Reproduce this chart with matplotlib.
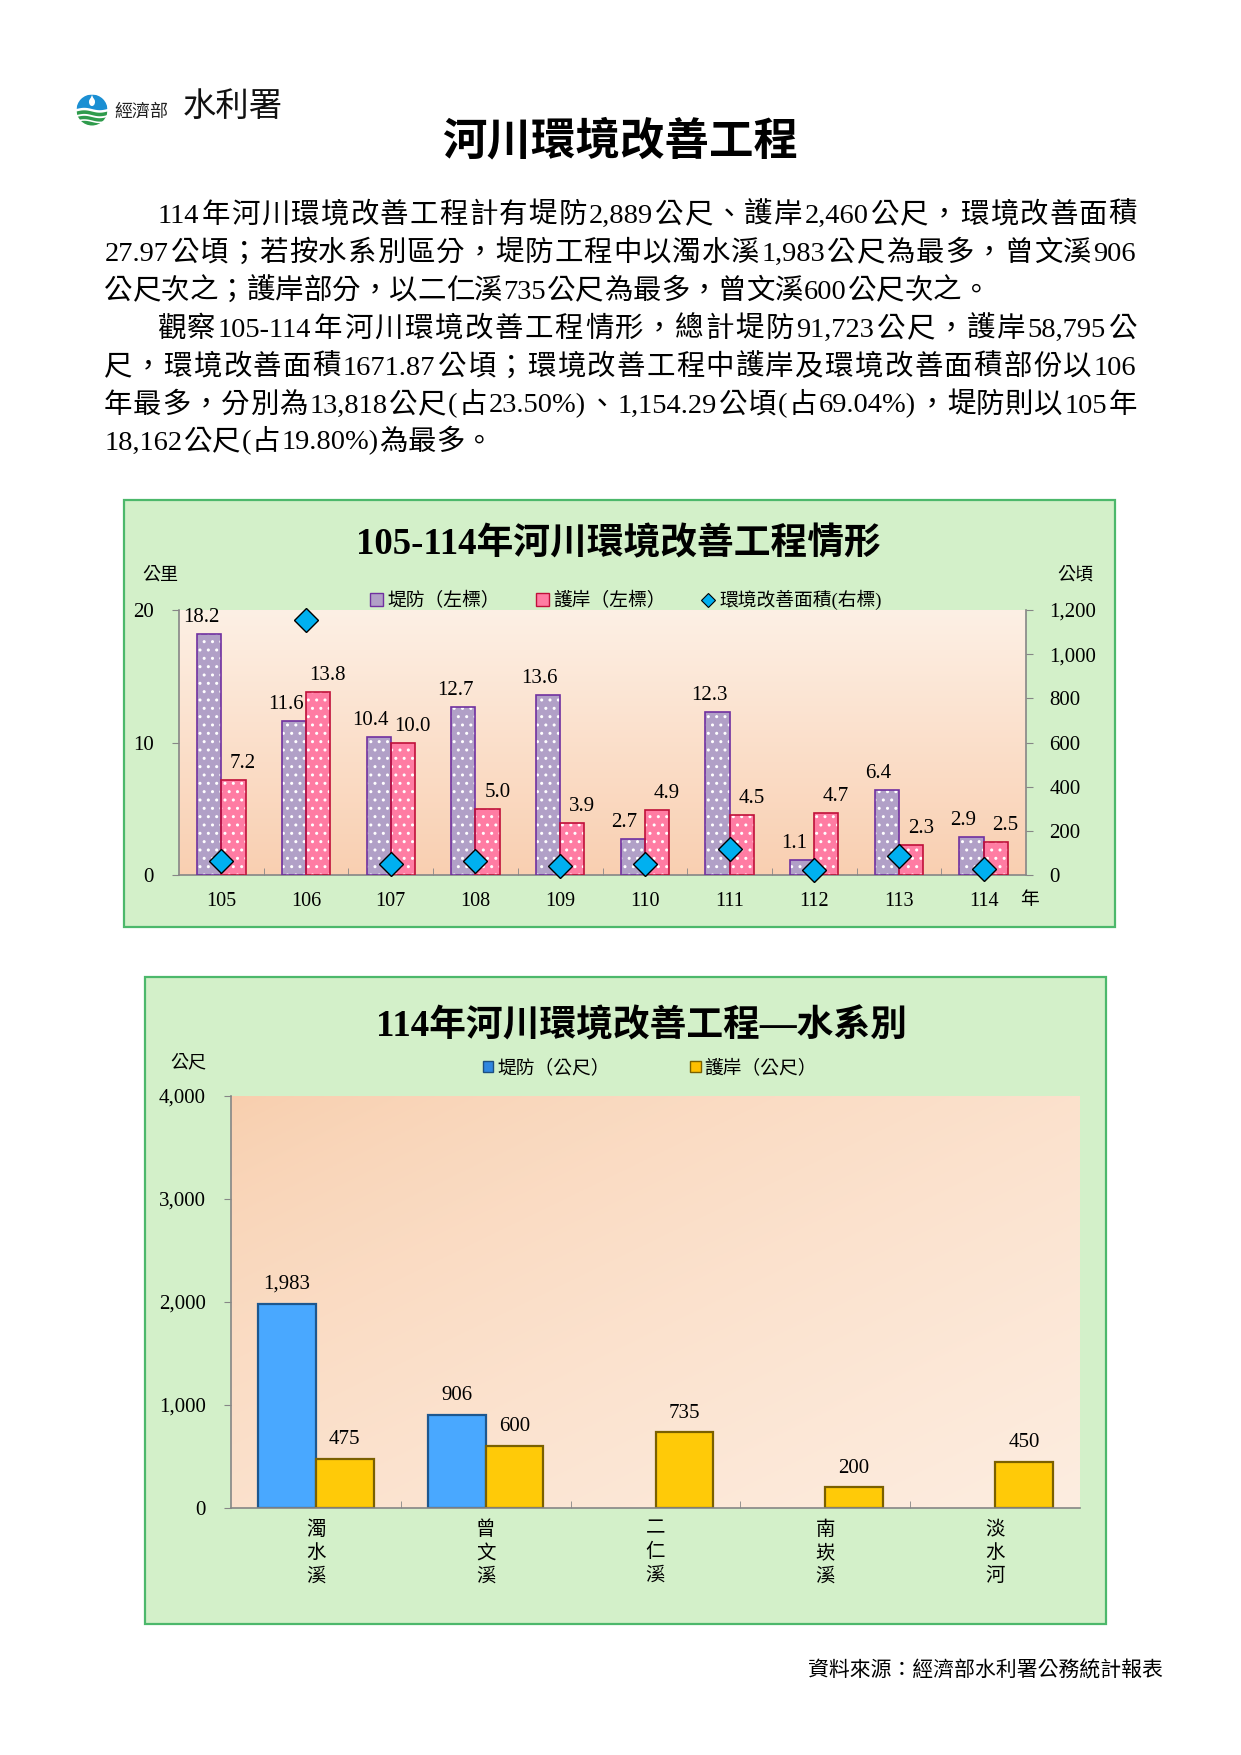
import matplotlib
matplotlib.use('Agg')
import matplotlib.pyplot as plt
import numpy as np
from matplotlib.patches import Rectangle, Circle, Ellipse, Polygon, Patch
from matplotlib.lines import Line2D
from matplotlib.ticker import FuncFormatter

W, H = 1241, 1755
plt.rcParams['font.family'] = ['Liberation Serif', 'Noto Sans CJK TC', 'DejaVu Sans']
plt.rcParams['hatch.linewidth'] = 1.0

# ---------------- data ----------------
years = ['105', '106', '107', '108', '109', '110', '111', '112', '113', '114']
levee_km = [18.2, 11.6, 10.4, 12.7, 13.6, 2.7, 12.3, 1.1, 6.4, 2.9]
revet_km = [7.2, 13.8, 10.0, 5.0, 3.9, 4.9, 4.5, 4.7, 2.3, 2.5]
area_ha = [62, 1154.29, 48, 63, 42, 49, 118, 22, 85, 27.97]

rivers = ['濁水溪', '曾文溪', '二仁溪', '南崁溪', '淡水河']
levee_m = [1983, 906, 0, 0, 0]
revet_m = [475, 600, 735, 200, 450]

title_main = '河川環境改善工程'
title1 = '105-114年河川環境改善工程情形'
title2 = '114年河川環境改善工程—水系別'
para_lines = [
    ('114年河川環境改善工程計有堤防2,889公尺、護岸2,460公尺，環境改善面積', True, True),
    ('27.97公頃；若按水系別區分，堤防工程中以濁水溪1,983公尺為最多，曾文溪906', False, True),
    ('公尺次之；護岸部分，以二仁溪735公尺為最多，曾文溪600公尺次之。', False, False),
    ('觀察105-114年河川環境改善工程情形，總計堤防91,723公尺，護岸58,795公', True, True),
    ('尺，環境改善面積1671.87公頃；環境改善工程中護岸及環境改善面積部份以106', False, True),
    ('年最多，分別為13,818公尺(占23.50%)、1,154.29公頃(占69.04%)，堤防則以105年', False, True),
    ('18,162公尺(占19.80%)為最多。', False, False),
]
source = '資料來源：經濟部水利署公務統計報表'

# ---------------- figure ----------------
fig = plt.figure(figsize=(W / 100, H / 100), dpi=100)
renderer = fig.canvas.get_renderer()


def fx(x):
    return x / W


def fy(y):
    return 1 - y / H


def axrect(x0, y0, x1, y1):
    return [x0 / W, 1 - y1 / H, (x1 - x0) / W, (y1 - y0) / H]


bg = fig.add_axes([0, 0, 1, 1], zorder=0)
bg.set_xlim(0, W)
bg.set_ylim(H, 0)
bg.axis('off')

# ---------------- logo ----------------
cx, cy, r = 92, 110, 15.5
clip = Circle((cx, cy), r, transform=bg.transData)
bg.add_patch(Circle((cx, cy), r, fc='white', ec='none'))
xs = np.linspace(cx - r, cx + r, 60)
blue_poly = np.vstack([np.column_stack([xs, cy - 1 + 1.2 * np.sin((xs - cx) / r * np.pi)]),
                       [[cx + r, cy - r], [cx - r, cy - r]]])
p = Polygon(blue_poly, fc='#1b8fd3', ec='none')
bg.add_patch(p)
p.set_clip_path(clip)
for y0, th in [(cy + 1.5, 3.6), (cy + 7.0, 3.4), (cy + 12.0, 4.5)]:
    top = y0 + 1.2 * np.sin((xs - cx) / r * np.pi)
    poly = np.vstack([np.column_stack([xs, top]), np.column_stack([xs[::-1], top[::-1] + th])])
    g = Polygon(poly, fc='#2f9b4c', ec='none')
    bg.add_patch(g)
    g.set_clip_path(clip)
bg.add_patch(Ellipse((cx, cy - 8), 6, 8, fc='white', ec='none'))
bg.add_patch(Polygon([[cx - 2.6, cy - 9], [cx + 2.6, cy - 9], [cx, cy - 15]], fc='white', ec='none'))
fig.text(fx(114), fy(112), '經濟部', fontsize=13, ha='left', va='center', color='#222222')
fig.text(fx(183), fy(108), '水利署', fontsize=24, ha='left', va='center', color='#111111')

# ---------------- main title ----------------
fig.text(fx(620), fy(142), title_main, fontsize=32, fontweight='bold', ha='center', va='center')

# ---------------- paragraph (justified) ----------------
FS = 20.5
EM = FS * 100 / 72


def draw_line(text, x0, x1, yc, justify):
    tokens = []
    buf = ''
    for ch in text:
        if ord(ch) < 128:
            buf += ch
        else:
            if buf:
                tokens.append((buf, False))
                buf = ''
            tokens.append((ch, True))
    if buf:
        tokens.append((buf, False))
    widths = []
    for s, cjk in tokens:
        if cjk:
            widths.append(EM)
        else:
            t = fig.text(0, 0, s, fontsize=FS)
            w = t.get_window_extent(renderer).width
            t.remove()
            widths.append(w + 0.06 * EM)
    total = sum(widths)
    gap = (x1 - x0 - total) / (len(tokens) - 1) if justify else 0
    xpos = x0
    baseline = yc + 0.37 * EM
    for (s, cjk), w in zip(tokens, widths):
        fig.text(fx(xpos + w / 2), fy(baseline), s, fontsize=FS, ha='center', va='baseline')
        xpos += w + gap


line_y = [212, 250, 288, 326, 364, 402, 439]
for (txt, indent, just), yc in zip(para_lines, line_y):
    draw_line(txt, 157 if indent else 104, 1137, yc, just)

# ---------------- chart 1 ----------------
GRAY = '#868686'
bg.add_patch(Rectangle((124, 500), 991, 427, fc='#d3f0c9', ec='#4cb86b', lw=1.6))
fig.text(fx(618), fy(545), title1, fontsize=26.5, fontweight='bold', ha='center', va='center')
fig.text(fx(160), fy(575), '公里', fontsize=13, ha='center', va='center')
fig.text(fx(1075), fy(575), '公頃', fontsize=13, ha='center', va='center')
fig.text(fx(1029), fy(901), '年', fontsize=13.5, ha='center', va='center')

ax1 = fig.add_axes(axrect(179, 610, 1026, 875), zorder=1)
ax1.patch.set_visible(False)
x = np.arange(len(years))
c_top = np.array([253, 240, 229]) / 255
c_bot = np.array([249, 207, 177]) / 255
tt = np.linspace(0, 1, 256)[:, None, None]
grad1 = c_bot * (1 - tt) + c_top * tt
ax1.imshow(grad1, extent=(-0.5, len(years) - 0.5, 0, 20), aspect='auto', origin='lower', zorder=0)

bw = 0.286
ax1.bar(x - bw / 2, levee_km, bw, color='#b1a0c7', lw=0, zorder=2)
ax1.bar(x - bw / 2, levee_km, bw, fc='none', ec='white', hatch='..', lw=0, zorder=3)
ax1.bar(x - bw / 2, levee_km, bw, fc='none', ec='#7030a0', lw=1.2, zorder=4)
ax1.bar(x + bw / 2, revet_km, bw, color='#ff7ca3', lw=0, zorder=2)
ax1.bar(x + bw / 2, revet_km, bw, fc='none', ec='white', hatch='..', lw=0, zorder=3)
ax1.bar(x + bw / 2, revet_km, bw, fc='none', ec='#c0103a', lw=1.2, zorder=4)
for i in range(len(years)):
    ax1.annotate(f'{levee_km[i]:.1f}', (x[i] - bw / 2, levee_km[i]), xytext=(-6, 5),
                 textcoords='offset points', ha='center', va='bottom', fontsize=15, zorder=5)
    ax1.annotate(f'{revet_km[i]:.1f}', (x[i] + bw / 2, revet_km[i]), xytext=(7, 5),
                 textcoords='offset points', ha='center', va='bottom', fontsize=15, zorder=5)

ax1.set_xlim(-0.5, len(years) - 0.5)
ax1.set_ylim(0, 20)
ax1.set_yticks([0, 10, 20])
ax1.set_xticks(x, years)
ax1.set_xticks(np.arange(0.5, len(years) - 1, 1), minor=True)
ax1.tick_params(axis='x', which='major', length=0, pad=12, labelsize=14.5)
ax1.tick_params(axis='x', which='minor', direction='in', length=5, color=GRAY)
ax1.tick_params(axis='y', direction='out', length=5, color=GRAY, pad=13, labelsize=15)
for s in ['top', 'right']:
    ax1.spines[s].set_visible(False)
for s in ['left', 'bottom']:
    ax1.spines[s].set_color(GRAY)
    ax1.spines[s].set_linewidth(1.2)

ax1r = ax1.twinx()
ax1r.set_zorder(2)
ax1r.plot(x, area_ha, ls='none', marker='D', ms=12.5, mfc='#00b0f0', mec='black', mew=1.0, zorder=6,
          clip_on=False)
ax1r.set_ylim(0, 1200)
ax1r.set_yticks(range(0, 1201, 200))
ax1r.yaxis.set_major_formatter(FuncFormatter(lambda v, p: f'{v:,.0f}'))
ax1r.tick_params(axis='y', direction='out', length=5, color=GRAY, pad=12, labelsize=15)
for s in ['top', 'left', 'bottom']:
    ax1r.spines[s].set_visible(False)
ax1r.spines['right'].set_color(GRAY)
ax1r.spines['right'].set_linewidth(1.2)

h1 = [Patch(fc='#b1a0c7', ec='#7030a0', lw=1.0),
      Patch(fc='#ff7ca3', ec='#c0103a', lw=1.0),
      Line2D([], [], ls='none', marker='D', ms=7.5, mfc='#00b0f0', mec='black', mew=0.8)]
fig.legend(h1, ['堤防（左標）', '護岸（左標）', '環境改善面積(右標)'], loc='center',
           bbox_to_anchor=(fx(626), fy(600)), ncol=3, frameon=False, fontsize=13.5,
           handlelength=0.7, handleheight=0.7, handletextpad=0.25, columnspacing=1.9)

# ---------------- chart 2 ----------------
bg.add_patch(Rectangle((145, 977), 961, 647, fc='#d3f0c9', ec='#4cb86b', lw=1.6))
fig.text(fx(641), fy(1027), title2, fontsize=26.5, fontweight='bold', ha='center', va='center')
fig.text(fx(188), fy(1063), '公尺', fontsize=13, ha='center', va='center')

ax2 = fig.add_axes(axrect(231, 1096, 1080, 1508), zorder=1)
ax2.patch.set_visible(False)
xr = np.arange(len(rivers))
c_dark = np.array([248, 206, 173]) / 255
c_light = np.array([253, 237, 224]) / 255
XX, YY = np.meshgrid(np.linspace(0, 1, 200), np.linspace(0, 1, 200))
t2 = np.clip((XX + (1 - YY)) / 2, 0, 1) ** 0.7
grad2 = c_dark[None, None, :] * (1 - t2[..., None]) + c_light[None, None, :] * t2[..., None]
ax2.imshow(grad2, extent=(-0.5, len(rivers) - 0.5, 0, 4000), aspect='auto', origin='lower', zorder=0)

bw2 = 0.34
for i in range(len(rivers)):
    if levee_m[i] > 0:
        ax2.bar(xr[i] - bw2 / 2, levee_m[i], bw2, fc='#49a8ff', ec='#1d578f', lw=1.6, zorder=2)
        ax2.annotate(f'{levee_m[i]:,}', (xr[i] - bw2 / 2, levee_m[i]), xytext=(0, 7),
                     textcoords='offset points', ha='center', va='bottom', fontsize=15)
    if revet_m[i] > 0:
        ax2.bar(xr[i] + bw2 / 2, revet_m[i], bw2, fc='#ffca08', ec='#7a6000', lw=1.6, zorder=2)
        ax2.annotate(f'{revet_m[i]:,}', (xr[i] + bw2 / 2, revet_m[i]), xytext=(0, 7),
                     textcoords='offset points', ha='center', va='bottom', fontsize=15)

ax2.set_xlim(-0.5, len(rivers) - 0.5)
ax2.set_ylim(0, 4000)
ax2.set_yticks(range(0, 4001, 1000))
ax2.yaxis.set_major_formatter(FuncFormatter(lambda v, p: f'{v:,.0f}'))
ax2.set_xticks(xr, ['\n'.join(n) for n in rivers])
ax2.set_xticks(np.arange(0.5, len(rivers) - 1, 1), minor=True)
ax2.tick_params(axis='x', which='major', length=0, pad=9, labelsize=14)
ax2.tick_params(axis='x', which='minor', direction='in', length=5, color=GRAY)
ax2.tick_params(axis='y', direction='out', length=5, color=GRAY, pad=13, labelsize=15)
for lab in ax2.get_xticklabels():
    lab.set_linespacing(1.4)
for s in ['top', 'right']:
    ax2.spines[s].set_visible(False)
for s in ['left', 'bottom']:
    ax2.spines[s].set_color(GRAY)
    ax2.spines[s].set_linewidth(1.2)

h2 = [Patch(fc='#2f86e0', ec='#1d4f80', lw=1.0), Patch(fc='#ffc000', ec='#7a6000', lw=1.0)]
fig.legend(h2, ['堤防（公尺）', '護岸（公尺）'], loc='center', bbox_to_anchor=(fx(650), fy(1068)),
           ncol=2, frameon=False, fontsize=13.5, handlelength=0.55, handleheight=0.55,
           handletextpad=0.2, columnspacing=4.3)

# ---------------- source ----------------
fig.text(fx(808), fy(1671), source, fontsize=15, ha='left', va='center')

fig.savefig('out.png', dpi=100)
